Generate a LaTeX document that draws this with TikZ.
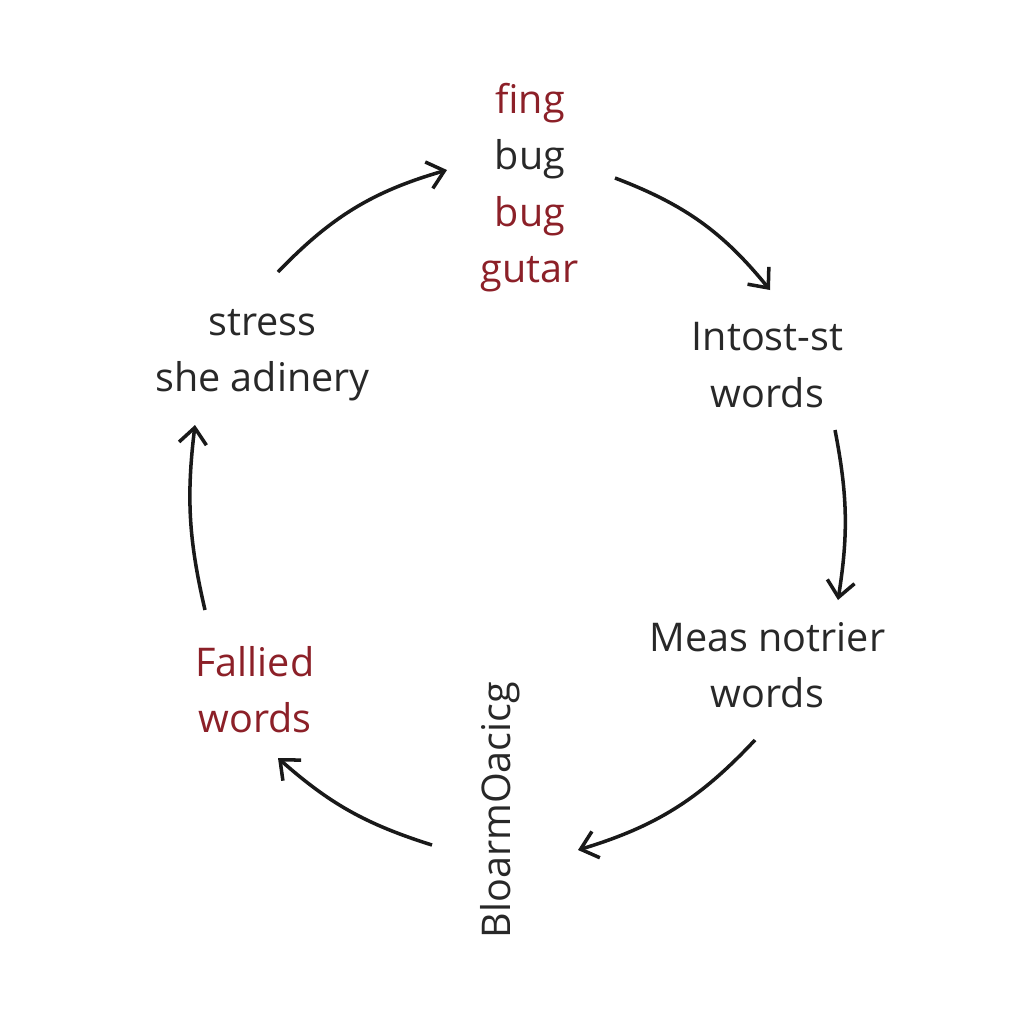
\documentclass[tikz,border=0pt]{standalone}
\usepackage{fontspec}
\setmainfont{Open Sans}
\usetikzlibrary{positioning, arrows.meta}
\definecolor{word-red}{RGB}{140,32,40}
\definecolor{word-black}{RGB}{40,40,40}
\tikzset{every picture/.style={line width=2pt}}

\begin{document}
\begin{tikzpicture}
    [words/.style = {align=center, text=word-black, font=\fontsize{22.5}{32}\selectfont, inner sep=0pt},
    redwords/.style = {words, text=word-red},
    cyc/.style = {-{Straight Barb[length=3.2mm,width=5.5mm]}, draw=black!90},
    ]
    \useasboundingbox[fill=white] (0,0) rectangle (20.48,-20.48);

	\node[words] (top) at (10.6,-3.75) {\textcolor{word-red}{fing}\\bug\\\textcolor{word-red}{bug}\\\textcolor{word-red}{gutar}};
	\node[words] (intost) at (15.35,-7.3) {Intost-st\\words};
	\node[words] (meas) at (15.35,-13.3) {Meas notrier\\words};
	\node[words, rotate=90] (bloarm) at (10.0,-16.2) {BloarmOacicg};
	\node[redwords] (fallied) at (5.1,-13.8) {Fallied\\words};
	\node[words] (stress) at (5.25,-7.1) {stress\\she adinery};

	% arrow ends
	\coordinate (a1) at (5.56,-5.44);  \coordinate (b1) at (8.94,-3.4);
	\coordinate (a2) at (12.3,-3.56);  \coordinate (b2) at (15.4,-5.8);
	\coordinate (a3) at (16.7,-8.6);   \coordinate (b3) at (16.76,-12.0);
	\coordinate (a4) at (15.1,-14.8);  \coordinate (b4) at (11.56,-17.0);
	\coordinate (a5) at (8.64,-16.9);  \coordinate (b5) at (5.56,-15.16);
	\coordinate (a6) at (4.1,-12.2);   \coordinate (b6) at (3.9,-8.5);

	\draw[cyc] (a1) to[bend left=15] (b1);
	\draw[cyc] (a2) to[bend left=15] (b2);
	\draw[cyc] (a3) to[bend left=10] (b3);
	\draw[cyc] (a4) to[bend left=15] (b4);
	\draw[cyc] (a5) to[bend left=12] (b5);
	\draw[cyc] (a6) to[bend left=10] (b6);
\end{tikzpicture}
\end{document}
